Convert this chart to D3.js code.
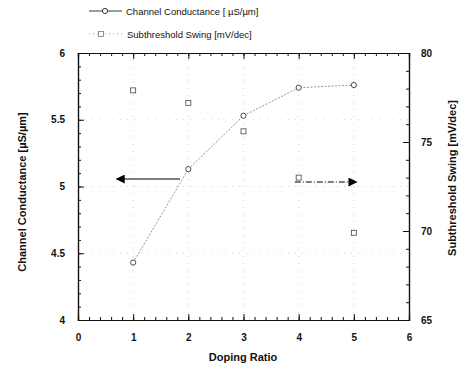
<!DOCTYPE html>
<html><head><meta charset="utf-8">
<script src="https://cdn.jsdelivr.net/npm/d3@7"></script>
<style>
body{margin:0;background:#fff;}
svg{display:block;font-family:"Liberation Sans",Arial,sans-serif;}
.tick text{font-weight:bold;font-size:10px;fill:#111;}
</style></head><body>
<svg id="c" width="464" height="369"></svg>
<script>
const doping = [1, 2, 3, 4, 5];
const conductance = [4.43, 5.13, 5.53, 5.74, 5.76];
const swing = [77.9, 77.2, 75.6, 73.0, 69.9];
const xTicks = [0, 1, 2, 3, 4, 5, 6];
const yLeftTicks = [4, 4.5, 5, 5.5, 6];
const yRightTicks = [65, 70, 75, 80];
const leftArrow = {from: [1.85, 5.056], to: [0.7, 5.056]};
const rightArrow = {from: [3.93, 72.75], to: [5.05, 72.75]};
const legendLabels = ["Channel Conductance [  \u00B5S/\u00B5m]", "Subthreshold Swing [mV/dec]"];
const xTitle = "Doping Ratio";
const yLeftTitle = "Channel Conductance [\u00B5S/\u00B5m]";
const yRightTitle = "Subthreshold Swing [mV/dec]";

const svg = d3.select("#c");
const L = 78, R = 409, T = 53, B = 320;
const x = d3.scaleLinear().domain([0, 6]).range([L, R]);
const yL = d3.scaleLinear().domain([4, 6]).range([B, T]);
const yR = d3.scaleLinear().domain([65, 80]).range([B, T]);

// faint dotted grid
const grid = svg.append("g").attr("stroke", "#bbb").attr("stroke-width", 0.7).attr("stroke-dasharray", "1,6");
[1, 2, 3, 4, 5].forEach(v => grid.append("line").attr("x1", x(v)).attr("x2", x(v)).attr("y1", T).attr("y2", B));
[4.5, 5, 5.5].forEach(v => grid.append("line").attr("x1", L).attr("x2", R).attr("y1", yL(v)).attr("y2", yL(v)));

function axisStyle(g) {
  g.select(".domain").attr("stroke", "#111").attr("stroke-width", 1.2);
  g.selectAll(".tick line").attr("stroke", "#111").attr("stroke-width", 1);
}
// minor ticks
svg.append("g").attr("transform", `translate(0,${B})`).call(d3.axisBottom(x).tickValues(d3.range(0, 6.01, 0.2)).tickSize(-3).tickFormat("")).call(axisStyle);
svg.append("g").attr("transform", `translate(0,${T})`).call(d3.axisTop(x).tickValues(d3.range(0, 6.01, 0.2)).tickSize(-3).tickFormat("")).call(axisStyle);
svg.append("g").attr("transform", `translate(${L},0)`).call(d3.axisLeft(yL).tickValues(d3.range(4, 6.01, 0.1)).tickSize(-3).tickFormat("")).call(axisStyle);
svg.append("g").attr("transform", `translate(${R},0)`).call(d3.axisRight(yR).tickValues(d3.range(65, 80.01, 1)).tickSize(-3).tickFormat("")).call(axisStyle);
// major ticks with labels
svg.append("g").attr("transform", `translate(0,${B})`).call(d3.axisBottom(x).tickValues(xTicks).tickSize(-6).tickPadding(14).tickFormat(d3.format("d"))).call(axisStyle);
svg.append("g").attr("transform", `translate(0,${T})`).call(d3.axisTop(x).tickValues(xTicks).tickSize(-6).tickFormat("")).call(axisStyle);
svg.append("g").attr("transform", `translate(${L},0)`).call(d3.axisLeft(yL).tickValues(yLeftTicks).tickSize(-6).tickPadding(13).tickFormat(d => String(d))).call(axisStyle);
svg.append("g").attr("transform", `translate(${R},0)`).call(d3.axisRight(yR).tickValues(yRightTicks).tickSize(-6).tickPadding(12).tickFormat(d3.format("d"))).call(axisStyle);

// series lines
svg.append("path").datum(doping.map((d, i) => [d, conductance[i]]))
  .attr("d", d3.line().x(d => x(d[0])).y(d => yL(d[1])))
  .attr("fill", "none").attr("stroke", "#666").attr("stroke-width", 0.7).attr("stroke-dasharray", "2,1.5");
svg.append("path").datum(doping.map((d, i) => [d, swing[i]]))
  .attr("d", d3.line().x(d => x(d[0])).y(d => yR(d[1])))
  .attr("fill", "none").attr("stroke", "#ddd").attr("stroke-width", 0.6).attr("stroke-dasharray", "1,6");

// markers
svg.append("g").selectAll("circle").data(doping).join("circle")
  .attr("cx", (d) => x(d)).attr("cy", (d, i) => yL(conductance[i])).attr("r", 2.6)
  .attr("fill", "#fff").attr("stroke", "#333").attr("stroke-width", 0.9);
svg.append("g").selectAll("rect").data(doping).join("rect")
  .attr("x", d => x(d) - 2.5).attr("y", (d, i) => yR(swing[i]) - 2.5).attr("width", 5).attr("height", 5)
  .attr("fill", "#fff").attr("stroke", "#444").attr("stroke-width", 0.8);

// arrows
const defs = svg.append("defs");
defs.append("marker").attr("id", "ah").attr("viewBox", "0 0 10 10").attr("refX", 9).attr("refY", 5)
  .attr("markerWidth", 12).attr("markerHeight", 9).attr("markerUnits", "userSpaceOnUse").attr("orient", "auto")
  .append("path").attr("d", "M0,0 L10,5 L0,10 Z").attr("fill", "#000");
svg.append("line").attr("x1", x(leftArrow.from[0])).attr("y1", yL(leftArrow.from[1]))
  .attr("x2", x(leftArrow.to[0])).attr("y2", yL(leftArrow.to[1]))
  .attr("stroke", "#000").attr("stroke-width", 1.1).attr("marker-end", "url(#ah)");
svg.append("line").attr("x1", x(rightArrow.from[0])).attr("y1", yR(rightArrow.from[1]))
  .attr("x2", x(rightArrow.to[0])).attr("y2", yR(rightArrow.to[1]))
  .attr("stroke", "#000").attr("stroke-width", 1.1).attr("stroke-dasharray", "6,2,1,2").attr("marker-end", "url(#ah)");

// legend
const lg = svg.append("g");
lg.append("line").attr("x1", 89).attr("x2", 122).attr("y1", 11).attr("y2", 11).attr("stroke", "#222").attr("stroke-width", 0.9);
lg.append("circle").attr("cx", 105).attr("cy", 11).attr("r", 2.6).attr("fill", "#fff").attr("stroke", "#222").attr("stroke-width", 0.9);
lg.append("text").attr("x", 126).attr("y", 15).attr("font-size", 9.5).attr("fill", "#111").text(legendLabels[0]);
lg.append("line").attr("x1", 89).attr("x2", 122).attr("y1", 34).attr("y2", 34).attr("stroke", "#888").attr("stroke-width", 0.8).attr("stroke-dasharray", "1,3");
lg.append("rect").attr("x", 98.5).attr("y", 31.5).attr("width", 5).attr("height", 5).attr("fill", "#fff").attr("stroke", "#777").attr("stroke-width", 0.8);
lg.append("text").attr("x", 127).attr("y", 38).attr("font-size", 9.5).attr("fill", "#111").text(legendLabels[1]);

// titles
svg.append("text").attr("x", 243).attr("y", 361).attr("text-anchor", "middle").attr("font-weight", "bold").attr("font-size", 11).attr("fill", "#111").text(xTitle);
svg.append("text").attr("transform", "translate(26,192) rotate(-90)").attr("text-anchor", "middle").attr("font-weight", "bold").attr("font-size", 11).attr("fill", "#111").text(yLeftTitle);
svg.append("text").attr("transform", "translate(456,178) rotate(-90)").attr("text-anchor", "middle").attr("font-weight", "bold").attr("font-size", 11).attr("fill", "#111").text(yRightTitle);
</script></body></html>
